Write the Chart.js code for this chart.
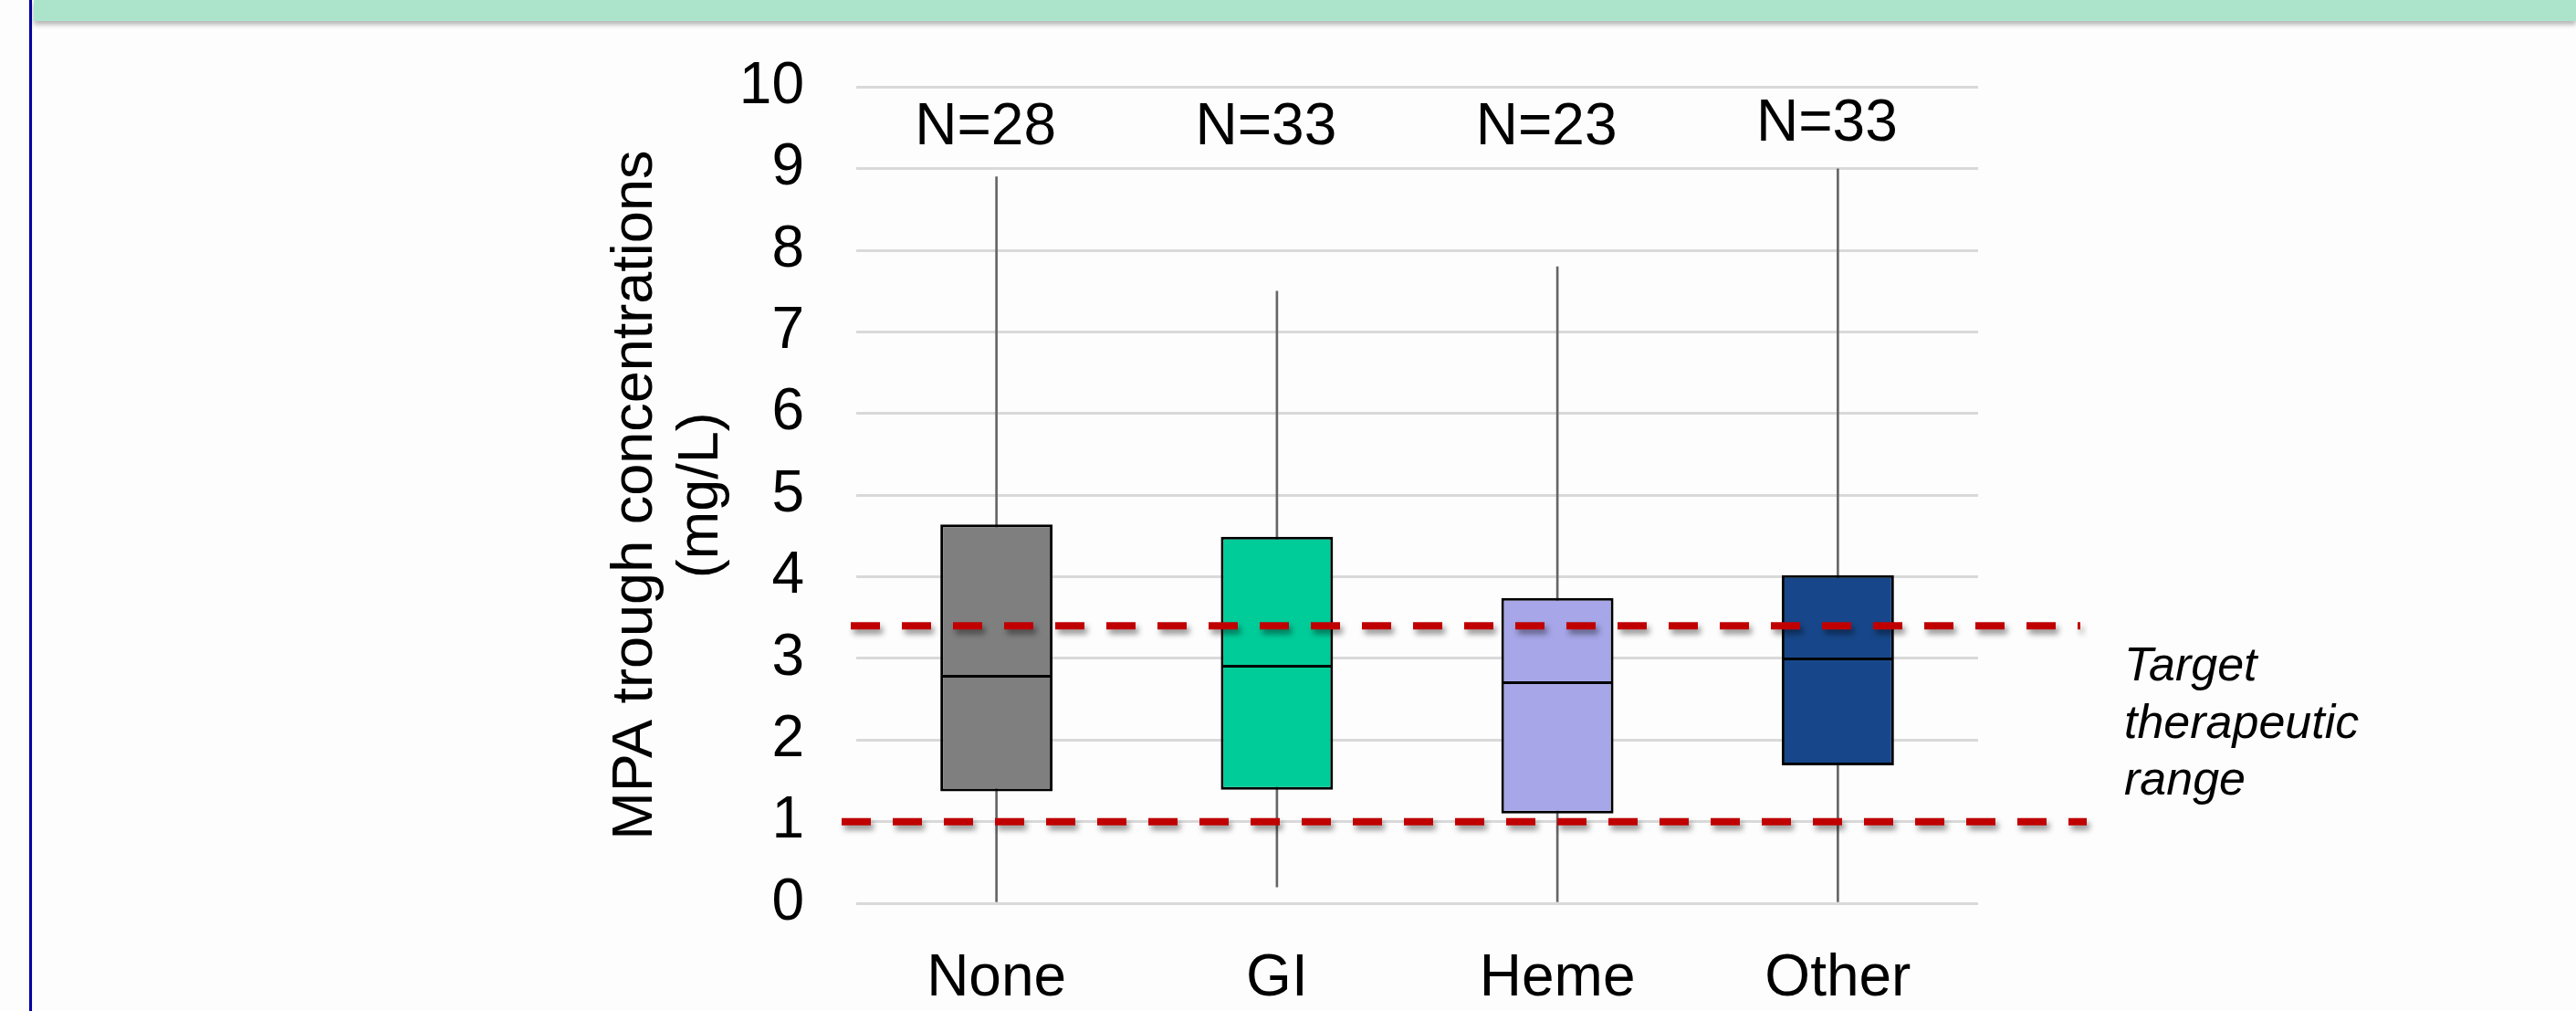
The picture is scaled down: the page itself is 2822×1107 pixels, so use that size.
<!DOCTYPE html>
<html>
<head>
<meta charset="utf-8">
<script src="https://cdn.jsdelivr.net/npm/chart.js@4"></script>
<style>
  html, body { margin: 0; padding: 0; background: #fdfdfd; }
  #wrap { position: relative; width: 2822px; height: 1107px; overflow: hidden; background: #fdfdfd; }
  #leftLine { position: absolute; left: 32px; top: 0; width: 3px; height: 1107px; background: #0000a0; box-shadow: 0 0 1px #8888dd; }
  #banner { position: absolute; left: 37px; top: 0; right: 0; height: 23px; background: #abe4cb; box-shadow: 0 4px 5px rgba(0,0,0,0.28); }
  #grafica { position: absolute; left: 0; top: 0; }
</style>
</head>
<body>
<div id="wrap">
  <div id="leftLine"></div>
  <div id="banner"></div>
  <canvas id="grafica" width="2822" height="1107"></canvas>
</div>
<script>
// datos (mg/L)
const categorias = ['None', 'GI', 'Heme', 'Other'];
const etiquetasN = ['N=28', 'N=33', 'N=23', 'N=33'];
const bigoteMin = [0, 0.2, 0, 0];
const cuartil1 = [1.37, 1.39, 1.10, 1.69];
const mediana = [2.79, 2.91, 2.71, 3.0];
const cuartil3 = [4.64, 4.49, 3.74, 4.02];
const bigoteMax = [8.9, 7.5, 7.8, 9.0];
const rangoObjetivo = [3.4, 1.0];
const alturaN = [9.5, 9.5, 9.5, 9.54];
const ticksY = [0, 1, 2, 3, 4, 5, 6, 7, 8, 9, 10];

const coloresCaja = ['#7f7f7f', '#00cc99', '#a6a6e8', '#17478a'];
const fuente = 'Liberation Sans, Arial, Helvetica, sans-serif';

// medianas, lineas del rango objetivo y textos
const extras = {
    id: 'extras',
    afterDatasetsDraw(chart) {
        const ctx = chart.ctx;
        const x = chart.scales.x;
        const y = chart.scales.y;
        const area = chart.chartArea;
        const cajas = chart.getDatasetMeta(1).data;

        ctx.save();
        ctx.strokeStyle = '#000';
        ctx.lineWidth = 3;
        mediana.forEach((m, i) => {
            const px = x.getPixelForValue(i);
            const half = cajas[i].width / 2;
            const py = Math.round(y.getPixelForValue(m)) + 0.5;
            ctx.beginPath();
            ctx.moveTo(px - half + 1, py);
            ctx.lineTo(px + half - 1, py);
            ctx.stroke();
        });
        ctx.restore();

        // rango terapeutico
        const extremos = [[-6, 112], [-16, 119]];
        ctx.save();
        ctx.strokeStyle = '#c00000';
        ctx.lineWidth = 8;
        ctx.setLineDash([32, 24]);
        ctx.shadowColor = 'rgba(0,0,0,0.42)';
        ctx.shadowBlur = 6;
        ctx.shadowOffsetX = 3;
        ctx.shadowOffsetY = 5;
        rangoObjetivo.forEach((v, i) => {
            const py = y.getPixelForValue(v);
            ctx.beginPath();
            ctx.moveTo(area.left + extremos[i][0], py);
            ctx.lineTo(area.right + extremos[i][1], py);
            ctx.stroke();
        });
        ctx.restore();

        // N por grupo
        ctx.save();
        ctx.fillStyle = '#000';
        ctx.font = '64px ' + fuente;
        ctx.textAlign = 'center';
        ctx.textBaseline = 'middle';
        etiquetasN.forEach((t, i) => {
            ctx.fillText(t, x.getPixelForValue(i) - 12, y.getPixelForValue(alturaN[i]));
        });
        ctx.restore();

        // texto del rango
        ctx.save();
        ctx.fillStyle = '#000';
        ctx.font = 'italic 52px ' + fuente;
        ctx.textAlign = 'left';
        ctx.textBaseline = 'alphabetic';
        const centro = y.getPixelForValue((rangoObjetivo[0] + rangoObjetivo[1]) / 2);
        ['Target', 'therapeutic', 'range'].forEach((t, i) => {
            ctx.fillText(t, area.right + 160, centro - 47 + i * 62.5);
        });
        ctx.restore();
    }
};

const ctx = document.getElementById('grafica').getContext('2d');

new Chart(ctx, {
    type: 'bar',
    data: {
        labels: categorias,
        datasets: [
            {
                label: 'bigotes',
                data: categorias.map((c, i) => [bigoteMin[i], bigoteMax[i]]),
                backgroundColor: '#666666',
                barThickness: 2,
                grouped: false,
                order: 2
            },
            {
                label: 'cajas',
                data: categorias.map((c, i) => [cuartil1[i], cuartil3[i]]),
                backgroundColor: coloresCaja,
                borderColor: '#000',
                borderWidth: 3,
                borderSkipped: false,
                barPercentage: 0.4,
                categoryPercentage: 1,
                grouped: false,
                order: 1
            }
        ]
    },
    options: {
        responsive: false,
        animation: false,
        layout: { padding: { left: 661.5, right: 655, top: 93, bottom: 0 } },
        plugins: { legend: { display: false }, tooltip: { enabled: false } },
        scales: {
            x: {
                grid: { display: false },
                border: { display: false },
                ticks: { color: '#000', font: { family: fuente, size: 64 }, padding: 37 },
                afterFit: s => { s.height = 118; }
            },
            y: {
                min: 0,
                max: 10,
                afterBuildTicks: s => { s.ticks = ticksY.map(v => ({ value: v })); },
                grid: { color: '#d9d9d9', lineWidth: 3, drawTicks: false },
                border: { display: false },
                ticks: { color: '#000', font: { family: fuente, size: 64 }, padding: 57 },
                title: {
                    display: true,
                    text: ['MPA trough concentrations', '(mg/L)'],
                    color: '#000',
                    font: { family: fuente, size: 63, lineHeight: 1.13 },
                    padding: { top: 0, bottom: 0 }
                },
                afterFit: s => { s.width = 276.5; }
            }
        }
    },
    plugins: [extras]
});
</script>
</body>
</html>
